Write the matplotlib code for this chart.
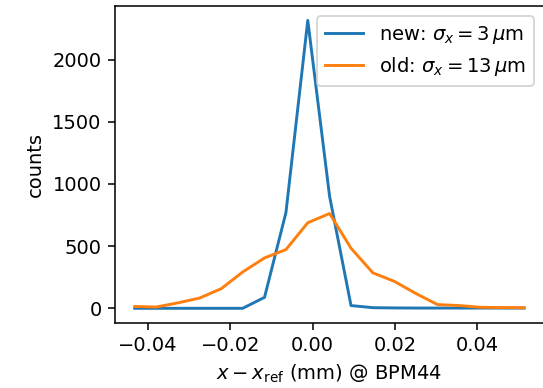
import numpy as np
import matplotlib
matplotlib.use("Agg")
import matplotlib.pyplot as plt

# bin centres (mm)
x_centers = [-0.0432, -0.0380, -0.0327, -0.0275, -0.0222, -0.0170, -0.0117,
             -0.0065, -0.0012, 0.0041, 0.0093, 0.0146, 0.0198, 0.0251,
             0.0303, 0.0356, 0.0408, 0.0461, 0.0513]
counts_new = [0, 0, 0, 0, 0, 0, 88, 770, 2315, 900, 22, 5, 3, 2, 2, 2, 2, 2, 2]
counts_old = [15, 10, 44, 82, 158, 292, 405, 472, 688, 762, 483, 285, 217, 118,
              30, 22, 8, 6, 5]

label_new = r"new: $\sigma_x = 3\,\mu$m"
label_old = r"old: $\sigma_x = 13\,\mu$m"

DPI = 140
fig = plt.figure(figsize=(543 / DPI, 388 / DPI), dpi=DPI)
ax = fig.add_axes([115.3 / 543, (388 - 322.7) / 388, (543.5 - 115.3) / 543, (322.7 - 6) / 388])
ax.plot(x_centers, counts_new, color="#1f77b4", label=label_new)
ax.plot(x_centers, counts_old, color="#ff7f0e", label=label_old)
ax.set_xticks([-0.04, -0.02, 0.0, 0.02, 0.04])
ax.set_yticks([0, 500, 1000, 1500, 2000])
ax.set_xlabel(r"$x - x_{\rm ref}$ (mm) @ BPM44")
ax.set_ylabel("counts")
ax.legend(loc="upper right")
fig.savefig("out.png", dpi=DPI)
